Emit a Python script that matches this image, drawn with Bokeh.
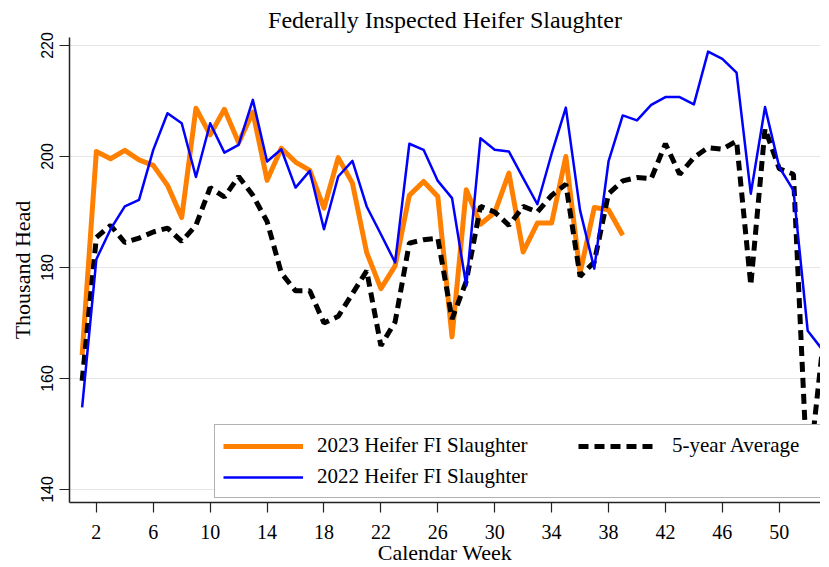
from bokeh.plotting import figure
from bokeh.models import Range1d, FixedTicker, Legend, LegendItem, ColumnDataSource
from bokeh.embed import file_html
from bokeh.resources import INLINE

weeks_2023 = list(range(1, 40))
heifer_2023 = [164.2, 200.9, 199.6, 201.1, 199.4, 198.4, 194.8, 189.0, 208.7, 203.9,
               208.5, 202.5, 208.0, 195.7, 201.5, 199.0, 197.5, 190.7, 199.8, 195.2,
               182.7, 176.2, 180.3, 193.0, 195.5, 192.8, 167.5, 194.0, 187.8, 189.9,
               197.0, 182.8, 188.0, 188.0, 200.0, 179.0, 190.8, 190.4, 185.8]

weeks_all = list(range(1, 54))
heifer_2022 = [154.8, 181.5, 186.9, 191.0, 192.2, 201.2, 207.8, 206.0, 196.3, 206.0,
               200.7, 202.1, 210.2, 199.1, 201.3, 194.4, 197.4, 186.9, 196.4, 199.2,
               191.0, 186.0, 180.9, 202.3, 201.2, 195.6, 192.5, 176.7, 203.3, 201.2,
               200.9, 196.1, 191.4, 200.5, 208.8, 190.3, 179.8, 199.1, 207.4, 206.5,
               209.3, 210.7, 210.7, 209.4, 218.9, 217.6, 215.1, 193.3, 208.9, 198.1,
               193.9, 168.6, 165.3]

avg_5yr = [159.6, 185.4, 187.6, 184.5, 185.3, 186.4, 187.1, 184.7, 187.6, 194.4,
           192.7, 196.4, 193.0, 188.3, 179.0, 175.8, 175.8, 170.0, 171.2, 175.3,
           179.4, 165.9, 170.2, 184.4, 185.0, 185.3, 170.7, 177.5, 191.0, 190.0,
           187.6, 191.0, 190.0, 193.0, 195.0, 178.4, 181.0, 193.3, 195.6, 196.2,
           196.0, 202.3, 196.8, 199.8, 201.6, 201.3, 202.8, 176.8, 205.0, 197.8,
           196.8, 141.0, 164.5]

x_ticks = [2, 6, 10, 14, 18, 22, 26, 30, 34, 38, 42, 46, 50]
y_ticks = [140, 160, 180, 200, 220]

SERIF = "Liberation Serif"
SANS = "Liberation Sans"

p = figure(frame_width=751, frame_height=465,
           x_range=Range1d(0.112, 52.9), y_range=Range1d(137.66, 221.44),
           output_backend="svg", toolbar_location=None,
           min_border_left=69, min_border_right=0, min_border_top=37, min_border_bottom=56,
           title="Federally Inspected Heifer Slaughter")
p.outline_line_color = None
p.background_fill_color = "white"
p.border_fill_color = "white"

p.title.align = "center"
p.title.text_font = SERIF
p.title.text_font_size = "24px"
p.title.text_font_style = "normal"
p.title.text_color = "black"
p.title.standoff = 9

src23 = ColumnDataSource(dict(x=weeks_2023, y=heifer_2023))
src22 = ColumnDataSource(dict(x=weeks_all, y=heifer_2022))
srcavg = ColumnDataSource(dict(x=weeks_all, y=avg_5yr))

r23 = p.line("x", "y", source=src23, line_color="#FF8000", line_width=5, line_join="round")
ravg = p.line("x", "y", source=srcavg, line_color="black", line_width=5, line_dash="10 6")
r22 = p.line("x", "y", source=src22, line_color="#0000FF", line_width=2.5, line_join="round")

p.xgrid.visible = False
p.ygrid.ticker = FixedTicker(ticks=y_ticks)
p.ygrid.grid_line_color = "#E6E6E6"
p.ygrid.grid_line_width = 1

xa = p.xaxis[0]
xa.ticker = FixedTicker(ticks=x_ticks)
xa.axis_label = "Calendar Week"
xa.axis_label_text_font = SERIF
xa.axis_label_text_font_size = "22px"
xa.axis_label_text_font_style = "normal"
xa.axis_label_text_color = "black"
xa.axis_label_standoff = -2
xa.major_label_text_font = SERIF
xa.major_label_text_font_size = "20px"
xa.major_label_text_color = "black"
xa.major_label_standoff = 12
xa.major_tick_out = 10
xa.major_tick_in = 0
xa.minor_tick_out = 0
xa.minor_tick_in = 0
xa.axis_line_color = "#222222"
xa.axis_line_width = 1.5
xa.major_tick_line_color = "#222222"
xa.major_tick_line_width = 1.2

ya = p.yaxis[0]
ya.ticker = FixedTicker(ticks=y_ticks)
ya.axis_label = "Thousand Head"
ya.axis_label_text_font = SERIF
ya.axis_label_text_font_size = "22px"
ya.axis_label_text_font_style = "normal"
ya.axis_label_text_color = "black"
ya.axis_label_standoff = 4
ya.major_label_text_font = SANS
ya.major_label_text_font_size = "16px"
ya.major_label_text_color = "black"
ya.major_label_orientation = "vertical"
ya.major_label_standoff = 6
ya.major_tick_out = 10
ya.major_tick_in = 0
ya.minor_tick_out = 0
ya.minor_tick_in = 0
ya.axis_line_color = "#222222"
ya.axis_line_width = 1.5
ya.major_tick_line_color = "#222222"
ya.major_tick_line_width = 1.2

legend = Legend(items=[LegendItem(label="2023 Heifer FI Slaughter", renderers=[r23]),
                       LegendItem(label="5-year Average", renderers=[ravg]),
                       LegendItem(label="2022 Heifer FI Slaughter", renderers=[r22])],
                orientation="horizontal", ncols=2,
                location=(145, 4))
legend.label_text_font = SERIF
legend.label_text_font_size = "21px"
legend.label_text_color = "black"
legend.glyph_width = 80
legend.glyph_height = 22
legend.label_standoff = 14
legend.label_width = 255
legend.spacing = 6
legend.padding = 8
legend.margin = 0
legend.border_line_color = "#666666"
legend.border_line_width = 1.5
legend.background_fill_color = "white"
legend.background_fill_alpha = 1.0
p.add_layout(legend, "center")

open("out.html", "w").write(file_html(p, INLINE))
